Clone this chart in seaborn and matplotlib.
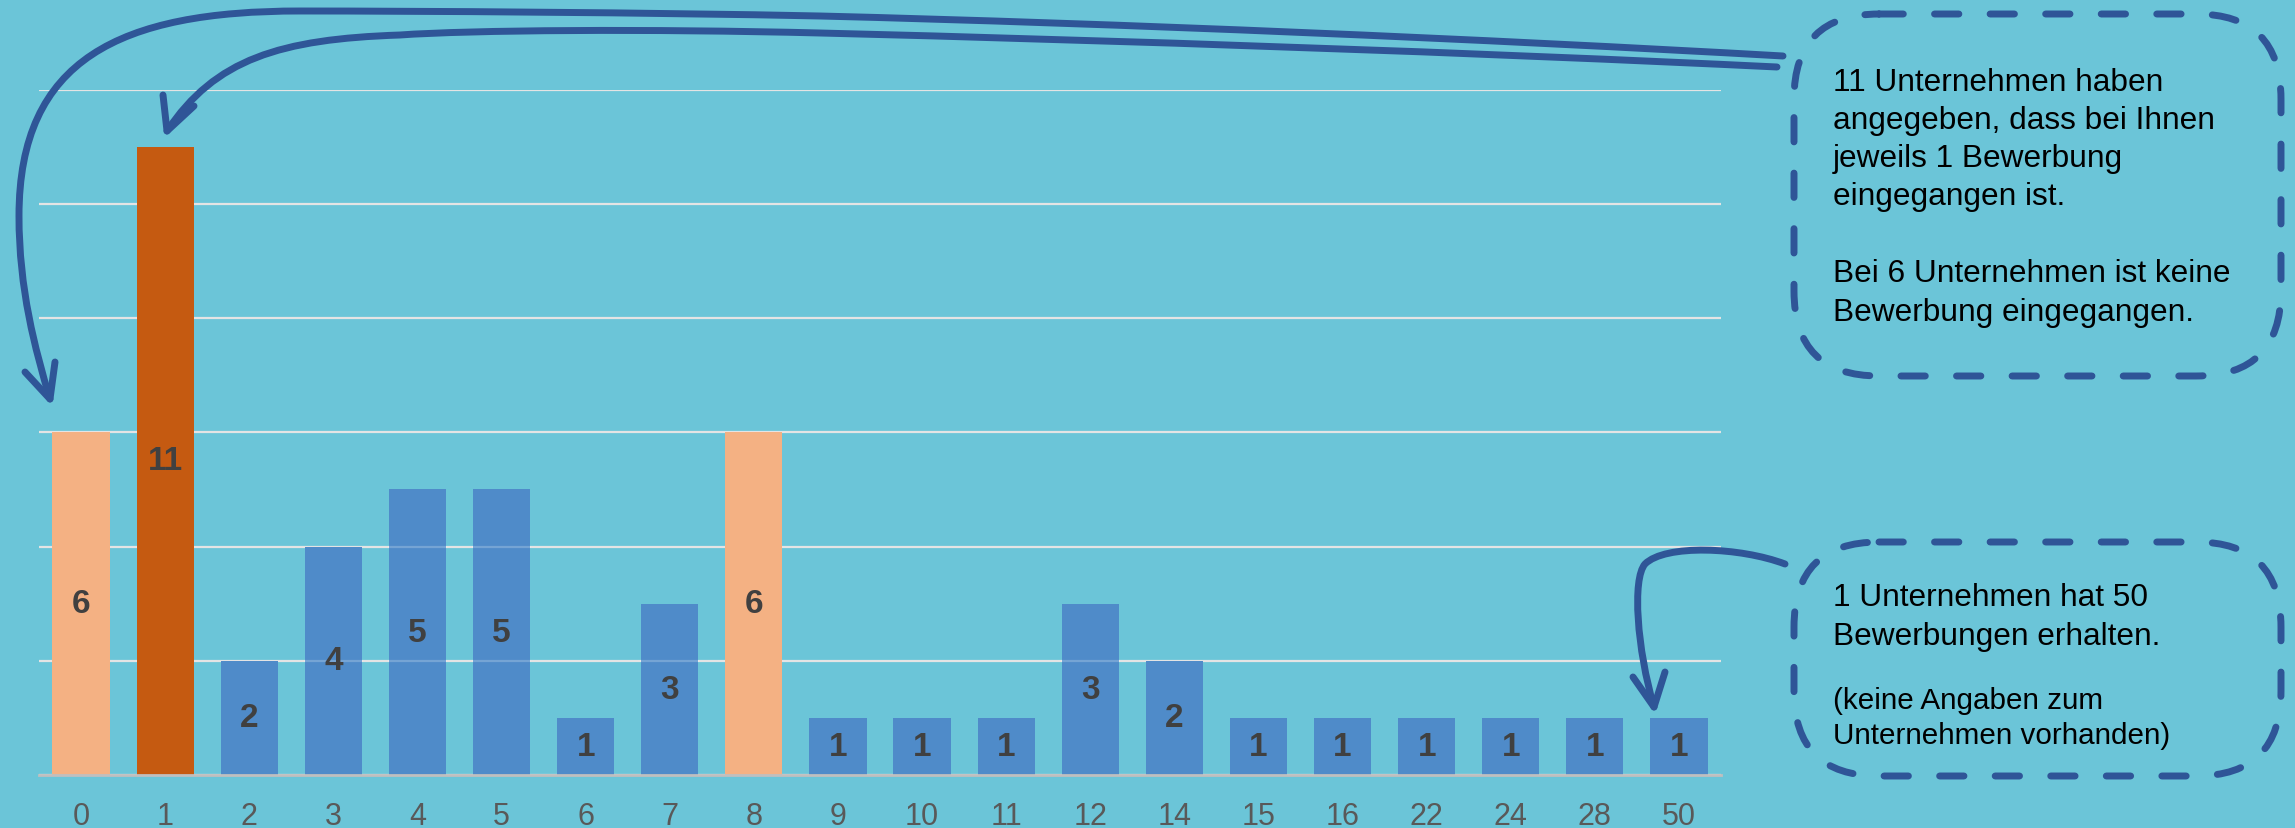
import numpy as np
import pandas as pd
import seaborn as sns
import matplotlib.pyplot as plt
from matplotlib.colors import to_hex
from matplotlib.path import Path
from matplotlib.patches import PathPatch, FancyBboxPatch

# data: Anzahl Bewerbungen -> Anzahl Unternehmen
bewerbungen = ["0", "1", "2", "3", "4", "5", "6", "7", "8", "9",
               "10", "11", "12", "14", "15", "16", "22", "24", "28", "50"]
unternehmen = [6, 11, 2, 4, 5, 5, 1, 3, 6, 1, 1, 1, 3, 2, 1, 1, 1, 1, 1, 1]

bg = "#6BC5D8"
blue = "#4F8BC9"
dark_orange = "#C55A11"
light_orange = "#F4B183"
arrow_col = "#2F5597"

colors = [blue] * len(bewerbungen)
colors[0] = light_orange
colors[1] = dark_orange
colors[8] = light_orange

sns.set_theme(style="white")
plt.rcParams["font.family"] = ["Liberation Sans", "DejaVu Sans"]

df = pd.DataFrame({"Bewerbungen": bewerbungen, "Unternehmen": unternehmen})

W, H = 2295, 829
fig = plt.figure(figsize=(W / 100, H / 100), dpi=100)
fig.patch.set_facecolor(bg)
ax = fig.add_axes([39 / W, 1 - 776 / H, 1682 / W, (776 - 90.5) / H])
ax.set_facecolor(bg)

sns.barplot(data=df, x="Bewerbungen", y="Unternehmen", hue="Bewerbungen",
            palette=colors, legend=False, width=0.68, saturation=1,
            edgecolor="none", linewidth=0, ax=ax)

grid_levels = list(range(0, 13, 2))

# blue bars are slightly see-through in the original: gridlines shimmer through
for p in ax.patches:
    if to_hex(p.get_facecolor()).lower() == blue.lower():
        for g in grid_levels[1:]:
            if g < p.get_height():
                ax.plot([p.get_x(), p.get_x() + p.get_width()], [g, g],
                        color="white", alpha=0.22, lw=1.6, zorder=p.zorder + 0.1)

for c in ax.containers:
    ax.bar_label(c, label_type="center", fontsize=24, fontweight="bold",
                 color="#404040", zorder=5)

ax.set_xlim(-0.5, len(bewerbungen) - 0.5)
ax.set_ylim(0, 12)
ax.set_yticks(grid_levels)
ax.set_yticklabels([])
ax.yaxis.grid(True, color="#E4E4E4", linewidth=1.6)
ax.set_axisbelow(True)
ax.set_xlabel("")
ax.set_ylabel("")
for s in ["top", "right", "left"]:
    ax.spines[s].set_visible(False)
ax.spines["bottom"].set_color("#BFBFBF")
ax.spines["bottom"].set_linewidth(2)
ax.tick_params(axis="x", length=0, pad=19, labelsize=22, labelcolor="#595959")
ax.tick_params(axis="y", length=0)

# overlay in pixel coordinates for annotations
ov = fig.add_axes([0, 0, 1, 1])
ov.set_xlim(0, W)
ov.set_ylim(H, 0)
ov.axis("off")


def curve(pts, codes):
    p = PathPatch(Path(pts, codes), facecolor="none", edgecolor=arrow_col,
                  linewidth=5, capstyle="round", joinstyle="round")
    ov.add_patch(p)


M, C, L = Path.MOVETO, Path.CURVE4, Path.LINETO

# arrow to bar "0"
curve([(1783, 57), (1483, 40), (1120, 24.5), (820, 17),
       (650, 13.5), (420, 12), (300, 12),
       (120, 12), (19, 60), (19, 217),
       (19, 290), (35, 350), (50, 400)],
      [M, C, C, C, C, C, C, C, C, C, C, C, C])
curve([(25, 373), (50, 400), (55, 363)], [M, L, L])

# arrow to bar "1"
curve([(1777, 68), (1477, 53.6), (1120, 41.5), (820, 34),
       (650, 29.75), (470, 31), (400, 36),
       (280, 40), (215, 60), (167, 132)],
      [M, C, C, C, C, C, C, C, C, C])
curve([(163, 96), (167, 132), (194, 107)], [M, L, L])

# arrow to bar "50"
curve([(1785, 565), (1740, 548), (1665, 545), (1645, 565),
       (1632, 580), (1637, 650), (1654, 708)],
      [M, C, C, C, C, C, C])
curve([(1633, 678), (1654, 708), (1665, 673)], [M, L, L])

# dashed rounded boxes
for x0, y0, x1, y1 in [(1794, 15, 2281, 377), (1794, 543, 2281, 777)]:
    box = FancyBboxPatch((x0, y0), x1 - x0, y1 - y0,
                         boxstyle="round,pad=0,rounding_size=85",
                         facecolor="none", edgecolor=arrow_col, linewidth=5,
                         linestyle=(0, (3.5, 4.5)), capstyle="round")
    ov.add_patch(box)

box1_lines = [("11 Unternehmen haben", 91), ("angegeben, dass bei Ihnen", 129),
              ("jeweils 1 Bewerbung", 167), ("eingegangen ist.", 205),
              ("Bei 6 Unternehmen ist keine", 282), ("Bewerbung eingegangen.", 321)]
for txt, yb in box1_lines:
    ov.text(1833, yb, txt, fontsize=22.75, color="#000000", va="baseline", ha="left")

box2_lines = [("1 Unternehmen hat 50", 606, 22.8), ("Bewerbungen erhalten.", 645, 22.8),
              ("(keine Angaben zum", 709, 21.3), ("Unternehmen vorhanden)", 744, 21.3)]
for txt, yb, fs in box2_lines:
    ov.text(1833, yb, txt, fontsize=fs, color="#000000", va="baseline", ha="left")

fig.savefig("out.png", dpi=100, facecolor=bg)
